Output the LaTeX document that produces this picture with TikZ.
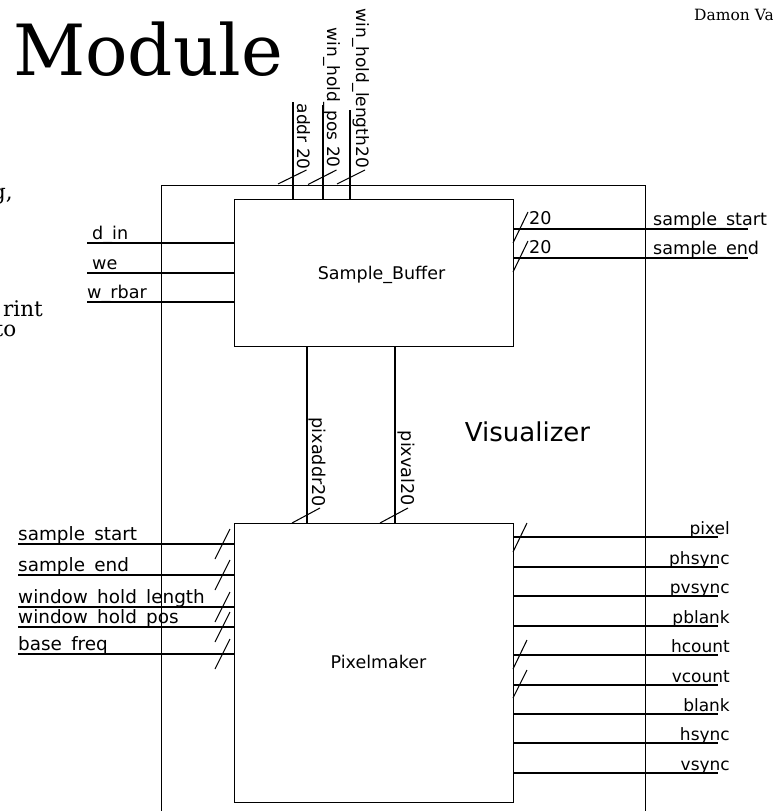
\documentclass[tikz,border=0pt]{standalone}
\usepackage{fontspec}
\newfontfamily\sigfont{DejaVu Sans}
\newfontfamily\serffont{DejaVu Serif}
\begin{document}
\begin{tikzpicture}[x=1pt,y=-1pt]
\tikzset{
  sig/.style={font=\sigfont\fontsize{17}{20}\selectfont, inner sep=0pt},
  sigl/.style={font=\sigfont\fontsize{18.4}{22}\selectfont, inner sep=0pt},
  sigm/.style={font=\sigfont\fontsize{17.6}{21}\selectfont, inner sep=0pt},
  blkname/.style={font=\sigfont\fontsize{17.5}{21}\selectfont, inner sep=0pt},
  blk/.style={draw, line width=1.2pt, inner sep=0pt, fill=none},
  wire/.style={line width=1.05pt},
  tick/.style={line width=1.05pt},
  pagetext/.style={font=\serffont\fontsize{21.5}{24}\selectfont, inner sep=0pt},
}
\useasboundingbox (0,0) rectangle (772,811);
\clip (0,0) rectangle (772,811);
\fill[white] (0,0) rectangle (772,811);

% page text fragments
\node[font=\serffont\fontsize{70.6}{80}\selectfont, inner sep=0pt, anchor=base west] (title) at (13,75) {Module};
\node[font=\serffont\fontsize{15.5}{18}\selectfont, inner sep=0pt, anchor=base west] (author) at (694,20.5) {Damon Va};
\node[pagetext, anchor=base east] (frag1) at (13,199) {g,};
\node[pagetext, anchor=base east] (frag2) at (43,316.5) {rint};
\node[pagetext, anchor=base east] (frag3) at (16.5,336) {to};

% blocks
\node[blk, minimum width=484pt, minimum height=660pt, anchor=north west] (vis) at (161,185) {};
\node[blk, minimum width=279pt, minimum height=147pt, anchor=north west] (sb) at (234,199) {};
\node[blk, minimum width=279pt, minimum height=279pt, anchor=north west] (pm) at (234,523) {};

\node[font=\sigfont\fontsize{26}{30}\selectfont, inner sep=0pt, anchor=base] (visname) at (527.5,441) {Visualizer};
\node[blkname, anchor=base] (sbname) at (381.5,279) {Sample\_Buffer};
\node[blkname, anchor=base] (pmname) at (378.5,668) {Pixelmaker};

% Sample_Buffer left inputs
\coordinate (din) at (87,243);
\coordinate (we) at (87,273);
\coordinate (wrbar) at (87,302);
\draw[wire] (din) -- (din -| sb.west);
\draw[wire] (we) -- (we -| sb.west);
\draw[wire] (wrbar) -- (wrbar -| sb.west);
\node[sigm, anchor=base west] (ldin) at (92,239.5) {d\_in};
\node[sigm, anchor=base west] (lwe) at (92,269.5) {we};
\node[sigm, anchor=base west] (lwrbar) at (87,298.5) {w\_rbar};

% Sample_Buffer right outputs
\coordinate (sso) at (748,229);
\coordinate (seo) at (748,258);
\draw[wire] (sso -| sb.east) -- (sso);
\draw[wire] (seo -| sb.east) -- (seo);
\draw[tick] (513,243) -- (528,212);
\draw[tick] (513,272) -- (528,241);
\node[sigm, anchor=base west] (wss) at (529,224) {20};
\node[sigm, anchor=base west] (wse) at (529,253) {20};
\node[sigm, anchor=base west] (lsso) at (653,225.5) {sample\_start};
\node[sigm, anchor=base west] (lseo) at (653,254.5) {sample\_end};

% top inputs
\coordinate (addr) at (293,102);
\coordinate (whp) at (323,105);
\coordinate (whl) at (350,110);
\draw[wire] (addr) -- (addr |- sb.north);
\draw[wire] (whp) -- (whp |- sb.north);
\draw[wire] (whl) -- (whl |- sb.north);
\draw[tick] (278,184) -- (306.5,170);
\draw[tick] (308,184.5) -- (336.5,170);
\draw[tick] (337,184) -- (365,170);
\node[sig, rotate=-90, anchor=base east] (laddr) at (297,170) {addr 20};
\node[sig, rotate=-90, anchor=base east] (lwhp) at (327,168) {win\_hold\_pos 20};
\node[sig, rotate=-90, anchor=base east] (lwhl) at (356,168) {win\_hold\_length20};

% between blocks
\coordinate (pax) at (307,0);
\coordinate (pvx) at (395,0);
\draw[wire] (sb.south -| pax) -- (pm.north -| pax);
\draw[wire] (sb.south -| pvx) -- (pm.north -| pvx);
\draw[tick] (292,523) -- (320,508);
\draw[tick] (380,523) -- (408,508);
\node[sigm, rotate=-90, anchor=base east] (lpa) at (312,507) {pixaddr20};
\node[sigm, rotate=-90, anchor=base east] (lpv) at (401,506) {pixval20};

% Pixelmaker left inputs
\foreach \nm/\yy/\txt in {pss/544/sample\_start, pse/575/sample\_end, pwl/607/window\_hold\_length, pwp/627/window\_hold\_pos, pbf/654/base\_freq}{
  \coordinate (\nm) at (18,\yy);
  \draw[wire] (\nm) -- (\nm -| pm.west);
  \draw[tick] (215,\yy+15) -- (230,\yy-15);
  \node[sigl, anchor=base west] (l\nm) at (18,\yy-3.5) {\txt};
}

% Pixelmaker right outputs
\foreach \nm/\yy in {pixel/537, phsync/567, pvsync/596, pblank/626, hcount/655, vcount/685, blank/714, hsync/743, vsync/773}{
  \coordinate (\nm) at (718,\yy);
  \draw[wire] (\nm -| pm.east) -- (\nm);
  \node[sig, anchor=base east] (l\nm) at (730,\yy-2.5) {\nm};
}
\draw[tick] (513,552) -- (527,523);
\draw[tick] (513,669) -- (527,640);
\draw[tick] (513,698) -- (527,670);
\end{tikzpicture}
\end{document}
